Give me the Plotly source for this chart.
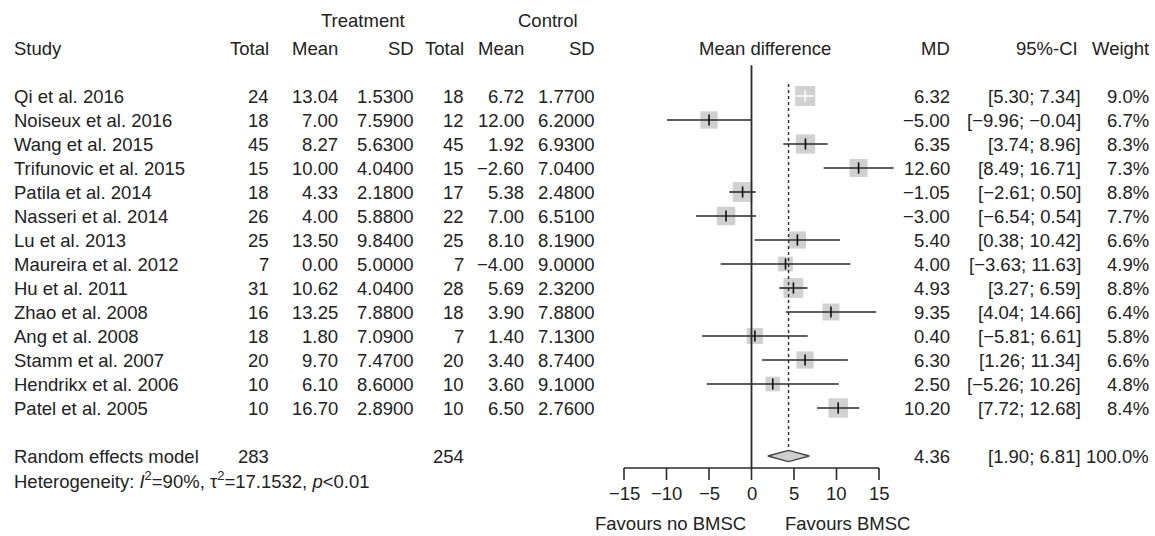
import plotly.graph_objects as go
import math

studies = ["Qi et al. 2016", "Noiseux et al. 2016", "Wang et al. 2015", "Trifunovic et al. 2015",
           "Patila et al. 2014", "Nasseri et al. 2014", "Lu et al. 2013", "Maureira et al. 2012",
           "Hu et al. 2011", "Zhao et al. 2008", "Ang et al. 2008", "Stamm et al. 2007",
           "Hendrikx et al. 2006", "Patel et al. 2005"]
t_total = [24, 18, 45, 15, 18, 26, 25, 7, 31, 16, 18, 20, 10, 10]
t_mean = [13.04, 7.00, 8.27, 10.00, 4.33, 4.00, 13.50, 0.00, 10.62, 13.25, 1.80, 9.70, 6.10, 16.70]
t_sd = [1.53, 7.59, 5.63, 4.04, 2.18, 5.88, 9.84, 5.00, 4.04, 7.88, 7.09, 7.47, 8.60, 2.89]
c_total = [18, 12, 45, 15, 17, 22, 25, 7, 28, 18, 7, 20, 10, 10]
c_mean = [6.72, 12.00, 1.92, -2.60, 5.38, 7.00, 8.10, -4.00, 5.69, 3.90, 1.40, 3.40, 3.60, 6.50]
c_sd = [1.77, 6.20, 6.93, 7.04, 2.48, 6.51, 8.19, 9.00, 2.32, 7.88, 7.13, 8.74, 9.10, 2.76]
md = [6.32, -5.00, 6.35, 12.60, -1.05, -3.00, 5.40, 4.00, 4.93, 9.35, 0.40, 6.30, 2.50, 10.20]
ci_lo = [5.30, -9.96, 3.74, 8.49, -2.61, -6.54, 0.38, -3.63, 3.27, 4.04, -5.81, 1.26, -5.26, 7.72]
ci_hi = [7.34, -0.04, 8.96, 16.71, 0.50, 0.54, 10.42, 11.63, 6.59, 14.66, 6.61, 11.34, 10.26, 12.68]
weight = [9.0, 6.7, 8.3, 7.3, 8.8, 7.7, 6.6, 4.9, 8.8, 6.4, 5.8, 6.6, 4.8, 8.4]

re_label = "Random effects model"
re_t_total = 283
re_c_total = 254
re_md = 4.36
re_lo = 1.90
re_hi = 6.81
re_weight = 100.0
het_text = "Heterogeneity: <i>I</i><sup>2</sup>=90%, τ<sup>2</sup>=17.1532, <i>p</i>&lt;0.01"
axis_ticks = [-15, -10, -5, 0, 5, 10, 15]
label_left = "Favours no BMSC"
label_right = "Favours BMSC"

W, H = 1155, 536
FONT = "Liberation Sans, Arial, Helvetica, sans-serif"
TXT = "#222222"
FS = 18.5

# pixel mapping of forest axis
X0PIX = 751.5
SCALE = 8.5
xr = [(0 - X0PIX) / SCALE, (W - X0PIX) / SCALE]
# row mapping: row k at pixel ROW0 + 24k
ROW0 = 24
yr = [(H - ROW0) / 24.0, -ROW0 / 24.0]


def fmt(v, d):
    s = f"{abs(v):.{d}f}"
    return ("−" + s) if v < 0 else s


def px(p):
    return p / W


annotations = []


def txt(xpix, row, text, anchor="right", size=FS):
    annotations.append(dict(x=px(xpix), xref="paper", y=row, yref="y", text=text,
                            showarrow=False, xanchor=anchor, yanchor="middle",
                            font=dict(family=FONT, size=size, color=TXT)))


# headers
txt(363, -0.15, "Treatment", "center")
txt(548, -0.15, "Control", "center")
txt(12, 1, "Study", "left")
txt(271, 1, "Total", "right")
txt(340, 1, "Mean", "right")
txt(416, 1, "SD", "right")
txt(466, 1, "Total", "right")
txt(526, 1, "Mean", "right")
txt(597, 1, "SD", "right")
txt(765, 1, "Mean difference", "center")
txt(952, 1, "MD", "right")
txt(1080, 1, "95%-CI", "right")
txt(1151, 1, "Weight", "right")

rows = [3 + i for i in range(len(studies))]
for i, r in enumerate(rows):
    txt(12, r, studies[i], "left")
    txt(271, r, str(t_total[i]))
    txt(340, r, fmt(t_mean[i], 2))
    txt(416, r, fmt(t_sd[i], 4))
    txt(466, r, str(c_total[i]))
    txt(526, r, fmt(c_mean[i], 2))
    txt(597, r, fmt(c_sd[i], 4))
    txt(952, r, fmt(md[i], 2))
    txt(1083, r, f"[{fmt(ci_lo[i], 2)}; {fmt(ci_hi[i], 2)}]")
    txt(1151, r, f"{weight[i]:.1f}%")

re_row = rows[-1] + 2
txt(12, re_row, re_label, "left")
txt(271, re_row, str(re_t_total))
txt(466, re_row, str(re_c_total))
txt(952, re_row, fmt(re_md, 2))
txt(1083, re_row, f"[{fmt(re_lo, 2)}; {fmt(re_hi, 2)}]")
txt(1151, re_row, f"{re_weight:.1f}%")
txt(12, re_row + 1, het_text, "left")

axis_row = re_row + 0.5
tick_end = axis_row + 0.5
for t in axis_ticks:
    annotations.append(dict(x=t, xref="x", y=axis_row + 1.08, yref="y", text=fmt(t, 0),
                            showarrow=False, xanchor="center", yanchor="middle",
                            font=dict(family=FONT, size=FS, color=TXT)))
annotations.append(dict(x=px(748), xref="paper", y=axis_row + 2.3, yref="y", text=label_left,
                        showarrow=False, xanchor="right", yanchor="middle",
                        font=dict(family=FONT, size=FS, color=TXT)))
annotations.append(dict(x=px(783), xref="paper", y=axis_row + 2.3, yref="y", text=label_right,
                        showarrow=False, xanchor="left", yanchor="middle",
                        font=dict(family=FONT, size=FS, color=TXT)))

fig = go.Figure()

# squares
sizes = [6.7 * math.sqrt(w) for w in weight]
fig.add_trace(go.Scatter(x=md, y=rows, mode="markers",
                         marker=dict(symbol="square", size=sizes, color="#bdbdbd",
                                     line=dict(width=0)),
                         hoverinfo="skip", showlegend=False))

# CI lines (white when entirely inside square)
blk_x, blk_y, wht_x, wht_y = [], [], [], []
blk_tx, blk_ty, wht_tx, wht_ty = [], [], [], []
for i, r in enumerate(rows):
    inside = (ci_hi[i] - ci_lo[i]) * SCALE < sizes[i]
    if inside:
        wht_x += [ci_lo[i], ci_hi[i], None]
        wht_y += [r, r, None]
        wht_tx.append(md[i]); wht_ty.append(r)
    else:
        blk_x += [ci_lo[i], ci_hi[i], None]
        blk_y += [r, r, None]
        blk_tx.append(md[i]); blk_ty.append(r)

fig.add_trace(go.Scatter(x=blk_x, y=blk_y, mode="lines", line=dict(color="#2b2b2b", width=1.6),
                         hoverinfo="skip", showlegend=False))
fig.add_trace(go.Scatter(x=wht_x, y=wht_y, mode="lines", line=dict(color="white", width=1.6),
                         hoverinfo="skip", showlegend=False))
fig.add_trace(go.Scatter(x=blk_tx, y=blk_ty, mode="markers",
                         marker=dict(symbol="line-ns", size=8, line=dict(color="#111111", width=1.6)),
                         hoverinfo="skip", showlegend=False))
fig.add_trace(go.Scatter(x=wht_tx, y=wht_ty, mode="markers",
                         marker=dict(symbol="line-ns", size=8, line=dict(color="white", width=1.6)),
                         hoverinfo="skip", showlegend=False))

# diamond
dh = 0.23
fig.add_trace(go.Scatter(x=[re_lo, re_md, re_hi, re_md, re_lo],
                         y=[re_row, re_row - dh, re_row, re_row + dh, re_row],
                         mode="lines", fill="toself", fillcolor="#cfcfcf",
                         line=dict(color="#444444", width=1.3),
                         hoverinfo="skip", showlegend=False))

shapes = []
# zero line
shapes.append(dict(type="line", xref="x", yref="y", x0=0, x1=0, y0=1.72, y1=axis_row,
                   line=dict(color="#2b2b2b", width=1.8)))
# pooled estimate dotted line
shapes.append(dict(type="line", xref="x", yref="y", x0=re_md, x1=re_md, y0=2.5, y1=re_row - dh,
                   line=dict(color="#2b2b2b", width=1.4, dash="dot")))
# axis line
shapes.append(dict(type="line", xref="x", yref="y", x0=axis_ticks[0], x1=axis_ticks[-1],
                   y0=axis_row, y1=axis_row, line=dict(color="#2b2b2b", width=1.6)))
for t in axis_ticks:
    shapes.append(dict(type="line", xref="x", yref="y", x0=t, x1=t, y0=axis_row, y1=tick_end,
                       line=dict(color="#2b2b2b", width=1.6)))

fig.update_layout(
    width=W, height=H,
    margin=dict(l=0, r=0, t=0, b=0),
    paper_bgcolor="white", plot_bgcolor="white",
    xaxis=dict(range=xr, visible=False, domain=[0, 1], fixedrange=True),
    yaxis=dict(range=yr, visible=False, domain=[0, 1], fixedrange=True),
    annotations=annotations, shapes=shapes,
    showlegend=False,
)

fig.write_html("out.html",
               config={"displayModeBar": False, "staticPlot": True},
               post_script="document.body.style.margin='0';document.body.style.overflow='hidden';")
